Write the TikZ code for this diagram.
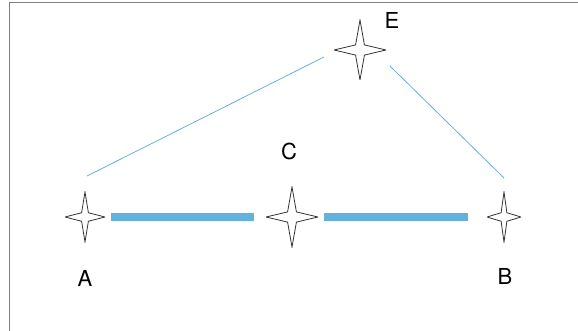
\documentclass[tikz,border=0pt]{standalone}
\usepackage{fontspec}
\setmainfont{TeX Gyre Heros}
\usepackage{tikz}
\usetikzlibrary{calc}
\definecolor{frame}{HTML}{808080}
\definecolor{edge}{HTML}{62B1DF}
\definecolor{ink}{HTML}{333333}
\tikzset{
  spark/.style ={draw=none, inner sep=0pt, outer sep=0pt,
                 path picture={
                   \draw[ink, line width=0.8pt, line join=miter]
                     (path picture bounding box.north)
                     -- ($(path picture bounding box.center)!0.17!(path picture bounding box.north east)$)
                     -- (path picture bounding box.east)
                     -- ($(path picture bounding box.center)!0.17!(path picture bounding box.south east)$)
                     -- (path picture bounding box.south)
                     -- ($(path picture bounding box.center)!0.17!(path picture bounding box.south west)$)
                     -- (path picture bounding box.west)
                     -- ($(path picture bounding box.center)!0.17!(path picture bounding box.north west)$)
                     -- cycle;}},
  big/.style   ={spark, minimum width=52pt, minimum height=60pt},
  small/.style ={spark, minimum height=50pt},
  bar/.style   ={draw=edge, line width=8pt},
  link/.style  ={draw=edge, line width=0.8pt},
  tag/.style   ={font=\fontsize{22}{24}\selectfont, text=black, inner sep=0pt},
  rim/.style   ={draw=frame, line width=1pt},
}

\begin{document}
\begin{tikzpicture}[x=1pt,y=-1pt]
  \useasboundingbox (0,0) rectangle (578,331);
  \draw[rim] (9,331) -- (9,3) -- (578,3);
  \node[small,minimum width=40pt] (A) at (85,217)  {};
  \node[big]                      (C) at (292,217) {};
  \node[small,minimum width=34pt] (B) at (504,217) {};
  \node[big]                      (E) at (360,50)  {};
  \node[tag] (lA) at (85,278)  {A};
  \node[tag] (lB) at (505,276) {B};
  \node[tag] (lC) at (289,151) {C};
  \node[tag] (lE) at (392,20)  {E};
  \draw[bar,shorten <=6pt,shorten >=12pt] (A) -- (C);
  \draw[bar,shorten <=6pt,shorten >=19pt] (C) -- (B);
  % the thin links stop short of the stars
  \coordinate (a1) at ($(A.north)+(2,-16)$);
  \coordinate (e1) at ($(E.west)+(-10,7)$);
  \coordinate (e2) at ($(E.east)+(4,16)$);
  \coordinate (b1) at ($(B.north)+(0,-14)$);
  \draw[link] (a1) -- (e1);
  \draw[link] (e2) -- (b1);
\end{tikzpicture}
\end{document}
